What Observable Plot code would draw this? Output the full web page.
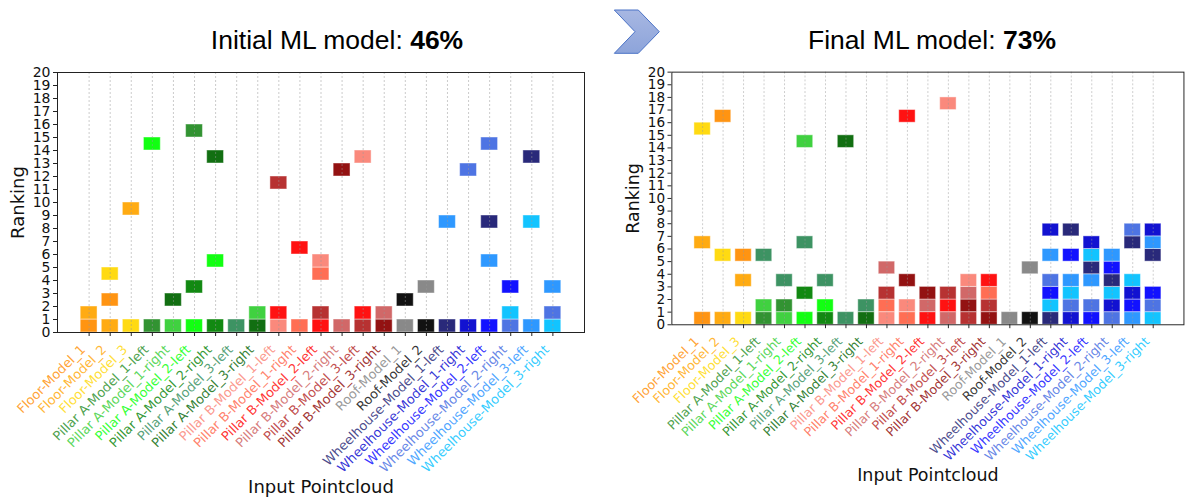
<!DOCTYPE html>
<html>
<head>
<meta charset="utf-8">
<script src="https://cdn.jsdelivr.net/npm/d3@7"></script>
<script src="https://cdn.jsdelivr.net/npm/@observablehq/plot@0.6"></script>
<style>
  body { margin: 0; background: #fff; }
  #wrap { position: relative; width: 1199px; height: 500px; overflow: hidden; font-family: "DejaVu Sans", sans-serif; }
  .title { position: absolute; top: 27px; font-family: "Liberation Sans", Arial, sans-serif; font-size: 26.5px; line-height: 1; color: #000; white-space: nowrap; transform: translateX(-50%); }
  .panel { position: absolute; top: 60px; }
  #arrow { position: absolute; left: 0; top: 0; }
</style>
</head>
<body>
<div id="wrap">
  <div class="title" id="title0" style="left:337px"></div>
  <div class="title" id="title1" style="left:932px"></div>
  <svg id="arrow" width="700" height="60">
    <defs>
      <linearGradient id="ag" x1="0" y1="0" x2="0" y2="1">
        <stop offset="0" stop-color="#A7B7E2"/>
        <stop offset="1" stop-color="#8DA4DA"/>
      </linearGradient>
    </defs>
    <polygon points="614.3,10 638.3,10 659.3,31.7 638.3,53.3 614.3,53.3 635,31.7" fill="url(#ag)" stroke="#4A72C6" stroke-width="1"/>
  </svg>
  <div class="panel" id="p0" style="left:0px"></div>
  <div class="panel" id="p1" style="left:616px"></div>
</div>
<script>
// ---- data ----
const categories = [
  "Floor-Model_1", "Floor-Model_2", "Floor-Model_3",
  "Pillar A-Model_1-left", "Pillar A-Model_1-right",
  "Pillar A-Model_2-left", "Pillar A-Model_2-right",
  "Pillar A-Model_3-left", "Pillar A-Model_3-right",
  "Pillar B-Model_1-left", "Pillar B-Model_1-right",
  "Pillar B-Model_2-left", "Pillar B-Model_2-right",
  "Pillar B-Model_3-left", "Pillar B-Model_3-right",
  "Roof-Model_1", "Roof-Model_2",
  "Wheelhouse-Model_1-left", "Wheelhouse-Model_1-right",
  "Wheelhouse-Model_2-left", "Wheelhouse-Model_2-right",
  "Wheelhouse-Model_3-left", "Wheelhouse-Model_3-right"
];
const modelColors = [
  "darkorange", "orange", "gold",
  "forestgreen", "limegreen", "lime", "green", "seagreen", "darkgreen",
  "salmon", "tomato", "red", "indianred", "firebrick", "darkred",
  "gray", "black",
  "midnightblue", "mediumblue", "blue", "royalblue", "dodgerblue", "deepskyblue"
];
const yTicks = d3.range(0, 21);
const panelTitles = ["Initial ML model: ", "Final ML model: "];
const panelScores = ["46%", "73%"];
const xLabel = "Input Pointcloud";
const yLabel = "Ranking";

// [input column, ranking, predicted model index]
const initialCells = [
  [0,1,0],[0,2,1],
  [1,1,1],[1,3,0],[1,5,2],
  [2,1,2],[2,10,1],
  [3,1,3],[3,15,5],
  [4,1,4],[4,3,8],
  [5,1,5],[5,4,6],[5,16,3],
  [6,1,6],[6,6,5],[6,14,8],
  [7,1,7],
  [8,1,8],[8,2,4],
  [9,1,9],[9,2,11],[9,12,13],
  [10,1,10],[10,7,11],
  [11,1,11],[11,2,13],[11,5,10],[11,6,9],
  [12,1,12],[12,13,14],
  [13,1,13],[13,2,11],[13,14,9],
  [14,1,14],[14,2,12],
  [15,1,15],[15,3,16],
  [16,1,16],[16,4,15],
  [17,1,17],[17,9,21],
  [18,1,18],[18,13,20],
  [19,1,19],[19,6,21],[19,9,17],[19,15,20],
  [20,1,20],[20,2,22],[20,4,19],
  [21,1,21],[21,9,22],[21,14,17],
  [22,1,22],[22,2,20],[22,4,21]
];
const finalCells = [
  [0,1,0],[0,7,1],[0,16,2],
  [1,1,1],[1,6,2],[1,17,0],
  [2,1,2],[2,4,1],[2,6,0],
  [3,1,3],[3,2,4],[3,6,7],
  [4,1,4],[4,2,3],[4,4,7],
  [5,1,5],[5,3,6],[5,7,7],[5,15,4],
  [6,1,6],[6,2,5],[6,4,7],
  [7,1,7],[7,15,8],
  [8,1,8],[8,2,7],
  [9,1,9],[9,2,10],[9,3,13],[9,5,12],
  [10,1,10],[10,2,9],[10,4,14],[10,17,11],
  [11,1,11],[11,2,12],[11,3,14],
  [12,1,12],[12,2,11],[12,3,13],[12,18,9],
  [13,1,13],[13,2,14],[13,3,12],[13,4,9],
  [14,1,14],[14,2,13],[14,3,10],[14,4,11],
  [15,1,15],
  [16,1,16],[16,5,15],
  [17,1,17],[17,2,22],[17,3,19],[17,4,20],[17,6,21],[17,8,18],
  [18,1,18],[18,2,20],[18,3,22],[18,4,21],[18,6,19],[18,8,17],
  [19,1,19],[19,2,20],[19,4,21],[19,5,17],[19,6,22],[19,7,18],
  [20,1,20],[20,2,18],[20,3,22],[20,4,17],[20,5,19],[20,6,21],
  [21,1,21],[21,2,19],[21,3,18],[21,4,22],[21,7,17],[21,8,20],
  [22,1,22],[22,2,20],[22,3,19],[22,6,17],[22,7,21],[22,8,18]
];

// ---- drawing ----
function makePanel(cells) {
  const data = cells.map(([c, r, m]) => ({c, r, m}));
  const idx = d3.range(categories.length);
  return Plot.plot({
    width: 600,
    height: 440,
    marginLeft: 57,
    marginRight: 16,
    marginTop: 12,
    marginBottom: 168,
    style: {fontFamily: "DejaVu Sans, sans-serif", fontSize: "13px", color: "#000", background: "transparent", overflow: "visible"},
    x: {domain: [-1.5, categories.length + 0.5], axis: null},
    y: {domain: [0, 20], axis: null},
    color: {type: "identity"},
    marks: [
      Plot.rect(data, {
        x1: d => d.c - 0.4, x2: d => d.c + 0.4,
        y1: d => d.r - 1, y2: d => d.r,
        fill: d => modelColors[d.m], fillOpacity: 0.93,
        stroke: "white", strokeOpacity: 0.45, strokeWidth: 1
      }),
      Plot.gridX({ticks: idx, stroke: "#9a9a9a", strokeOpacity: 0.5, strokeDasharray: "2,2", strokeWidth: 1}),
      Plot.frame({stroke: "#222", strokeWidth: 1}),
      Plot.axisY({ticks: yTicks, tickSize: 4, tickFormat: () => "", label: null, stroke: "#222"}),
      Plot.text(yTicks, {y: d => d, frameAnchor: "left", text: d => String(d), textAnchor: "end", lineAnchor: "middle", dx: -7, fontSize: 14, fill: "#111"}),
      Plot.axisX({ticks: idx, tickSize: 4, tickFormat: () => "", label: null, stroke: "#222"}),
      Plot.text(categories, {
        x: (d, i) => i, frameAnchor: "bottom", text: d => d,
        rotate: -45, textAnchor: "end", lineAnchor: "middle",
        dx: -6, dy: 15, fill: (d, i) => modelColors[i], fillOpacity: 0.8, fontSize: 13
      }),
      Plot.text([yLabel], {frameAnchor: "left", text: d => d, rotate: -90, dx: -39.5, fontSize: 18, textAnchor: "middle", lineAnchor: "middle", fill: "#111"}),
      Plot.text([xLabel], {frameAnchor: "bottom", text: d => d, dy: 155, fontSize: 18, lineAnchor: "middle", fill: "#111"})
    ]
  });
}

[initialCells, finalCells].forEach((cells, k) => {
  document.getElementById("p" + k).append(makePanel(cells));
  const t = document.getElementById("title" + k);
  t.append(document.createTextNode(panelTitles[k]));
  const b = document.createElement("b");
  b.textContent = panelScores[k];
  t.append(b);
});
</script>
</body>
</html>
